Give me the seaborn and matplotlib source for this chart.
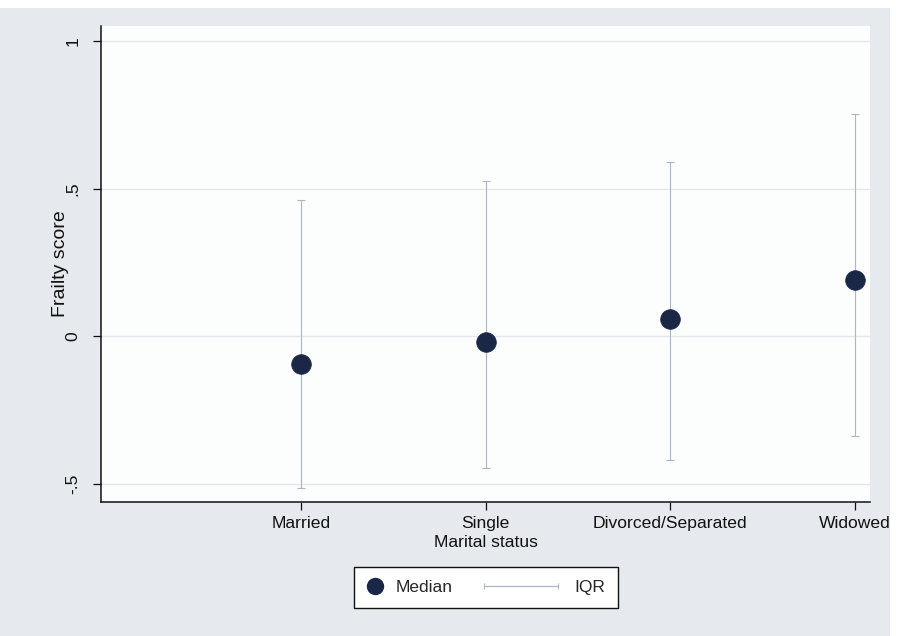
import matplotlib
matplotlib.use('Agg')
import matplotlib.pyplot as plt
from matplotlib.lines import Line2D
from matplotlib.legend_handler import HandlerLine2D
from matplotlib.patches import Rectangle
import seaborn as sns
import pandas as pd

# Data
categories = ['Married', 'Single', 'Divorced/Separated', 'Widowed']
median = [-0.095, -0.02, 0.057, 0.19]
iqr_low = [-0.513, -0.446, -0.42, -0.338]
iqr_high = [0.46, 0.524, 0.59, 0.753]
y_ticks = [-0.5, 0, 0.5, 1]
y_tick_labels = ['-.5', '0', '.5', '1']

df = pd.DataFrame({'status': categories, 'median': median, 'lo': iqr_low, 'hi': iqr_high})
df['pos'] = range(len(df))

sns.set_theme(style='white')
plt.rcParams['font.family'] = ['Liberation Sans', 'DejaVu Sans']

NAVY = '#1a2747'
CAP = '#aab6c6'
BG = '#e6e9ed'
GRID = '#e2e7ec'


class HandlerCapLine(HandlerLine2D):
    # long range-cap line drawn to the left of the label, like Stata's rcap key
    def create_artists(self, legend, orig_handle, xdescent, ydescent, width, height, fontsize, trans):
        y = height / 2 - ydescent
        x1 = width - xdescent - 2
        x0 = x1 - 4.3 * fontsize
        line = Line2D([x0, x1], [y, y], color=orig_handle.get_color(), lw=orig_handle.get_linewidth(),
                      marker='|', markersize=4, markeredgewidth=0.8, markeredgecolor=orig_handle.get_color())
        line.set_transform(trans)
        return [line]


fig = plt.figure(figsize=(9.09, 6.36), dpi=100, facecolor='white')
fig.patches.append(Rectangle((0, 0), 890 / 909, 1 - 8 / 636, transform=fig.transFigure,
                             facecolor=BG, edgecolor='none', zorder=-5))
ax = fig.add_axes([101 / 909, 1 - 502 / 636, 769 / 909, 476 / 636])
ax.set_zorder(2)
ax.set_facecolor('#fcfdfd')

# IQR range caps
ax.errorbar(df['pos'], df['median'], yerr=[df['median'] - df['lo'], df['hi'] - df['median']],
            fmt='none', ecolor=CAP, elinewidth=0.8, capsize=3, capthick=0.8, zorder=2)
# medians
sns.scatterplot(data=df, x='pos', y='median', s=200, color=NAVY, edgecolor=NAVY, linewidth=0.5,
                ax=ax, zorder=3, legend=False)

ax.set_xlim(-1.083, 3.081)
ax.set_ylim(-0.561, 1.05)
ax.set_xticks(df['pos'])
ax.set_xticklabels(categories)
ax.set_yticks(y_ticks)
ax.set_yticklabels(y_tick_labels, rotation=90, va='center')
ax.grid(axis='y', color=GRID, lw=1)
ax.set_axisbelow(True)

for side in ['top', 'right']:
    ax.spines[side].set_visible(False)
for side in ['left', 'bottom']:
    ax.spines[side].set_color('#111111')
    ax.spines[side].set_linewidth(1.1)

ax.tick_params(axis='both', direction='out', length=6, width=0.9, color='#111111',
               labelsize=12.6, labelcolor='#111111', left=True, bottom=True)
ax.tick_params(axis='y', pad=9)
ax.tick_params(axis='x', pad=4)

ax.set_xlabel('Marital status', fontsize=12.6, color='#111111', labelpad=3)
ax.set_ylabel('Frailty score', fontsize=14, color='#111111')
ax.yaxis.set_label_coords(-0.042, 0.5)

handles = [
    Line2D([], [], ls='none', marker='o', markersize=11.5, color=NAVY),
    Line2D([], [], color=CAP, lw=0.9),
]
leg = fig.legend(handles, ['Median', 'IQR'], loc='center', bbox_to_anchor=(0.5347, 0.0763),
                 ncol=2, fontsize=12.5, frameon=True, fancybox=False, edgecolor='#111111',
                 facecolor='white', framealpha=1, handlelength=0.9, handletextpad=0.75,
                 columnspacing=5.35, borderpad=0.75, handler_map={handles[1]: HandlerCapLine()})
leg.get_frame().set_linewidth(1.0)

fig.savefig('out.png', dpi=100, facecolor=fig.get_facecolor())
